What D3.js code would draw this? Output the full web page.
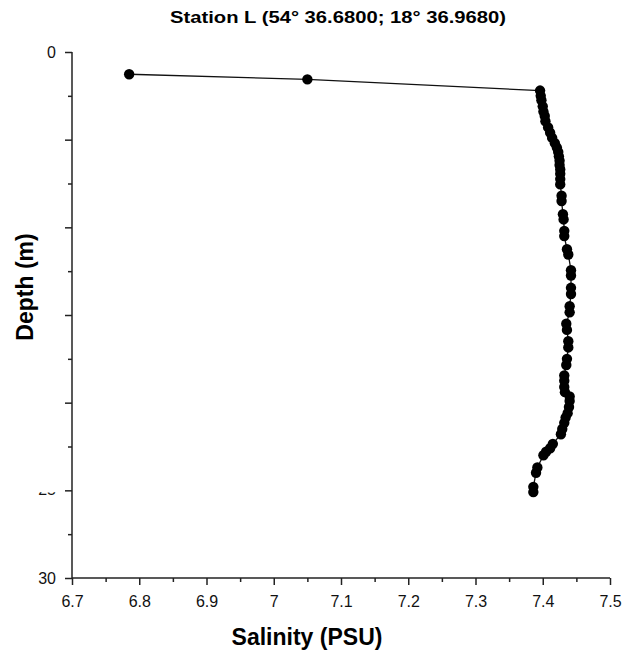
<!DOCTYPE html>
<html>
<head>
<meta charset="utf-8">
<script src="https://cdn.jsdelivr.net/npm/d3@7"></script>
<style>
  body { margin: 0; background: #fff; }
  svg { display: block; }
</style>
</head>
<body>
<div id="chart"></div>
<script>
// salinity profile, station L
const depth = [1.27, 1.56, 2.2, 2.5, 2.75, 3.1, 3.4, 3.65, 3.95, 4.3, 4.6, 4.9, 5.2, 5.45, 5.7, 5.95,
  6.2, 6.45, 6.7, 6.95, 7.25, 7.55, 8.2, 8.5, 9.25, 9.55, 10.2, 10.5, 11.25, 11.55, 12.45, 12.75,
  13.45, 13.8, 14.5, 14.85, 15.5, 15.85, 16.5, 16.85, 17.5, 17.85, 18.45, 18.75, 19.1, 19.4,
  19.65, 19.9, 20.25, 20.6, 20.85, 21.15, 21.5, 21.8, 22.35, 22.6, 22.8, 23.0, 23.7, 24.0, 24.8, 25.1];
const salinity = [6.785, 7.050, 7.396, 7.397, 7.398, 7.400, 7.401, 7.403, 7.404, 7.408, 7.411, 7.414,
  7.418, 7.421, 7.423, 7.424, 7.425, 7.425, 7.426, 7.426, 7.426, 7.426, 7.428, 7.428, 7.430, 7.431,
  7.432, 7.432, 7.436, 7.438, 7.442, 7.442, 7.442, 7.442, 7.440, 7.440, 7.435, 7.436, 7.438, 7.438,
  7.436, 7.435, 7.432, 7.432, 7.432, 7.433, 7.440, 7.440, 7.439, 7.437, 7.434, 7.432, 7.429, 7.427,
  7.415, 7.411, 7.405, 7.401, 7.392, 7.390, 7.386, 7.386];

const xTicks = [6.7, 6.8, 6.9, 7.0, 7.1, 7.2, 7.3, 7.4, 7.5];
const xMinor = [6.75, 6.85, 6.95, 7.05, 7.15, 7.25, 7.35, 7.45];
const yTicks = [0, 5, 10, 15, 20, 25, 30];
const yMinor = [2.5, 7.5, 12.5, 17.5, 22.5, 27.5];
const yLabeled = [0, 30];

const W = 638, H = 656;
const mLeft = 72, mRight = 610, mTop = 52, mBottom = 578;

const svg = d3.select("#chart")
    .append("svg")
    .attr("width", W)
    .attr("height", H)
    .style("font-family", "'Liberation Sans', Arial, sans-serif");

const x = d3.scaleLinear().domain([6.7, 7.5]).range([mLeft, mRight]);
const y = d3.scaleLinear().domain([0, 30]).range([mTop, mBottom]);

// x axis, major + minor
const xAxis = svg.append("g")
    .attr("transform", "translate(0," + mBottom + ")")
    .call(d3.axisBottom(x).tickValues(xTicks).tickSize(7).tickPadding(11)
        .tickFormat(d3.format("")));
svg.append("g")
    .attr("transform", "translate(0," + mBottom + ")")
    .call(d3.axisBottom(x).tickValues(xMinor).tickSize(4).tickFormat(""))
    .select(".domain").remove();

// y axis, major + minor
const yAxis = svg.append("g")
    .attr("transform", "translate(" + mLeft + ",0)")
    .call(d3.axisLeft(y).tickValues(yTicks).tickSize(7).tickPadding(9)
        .tickFormat(d => yLabeled.includes(d) ? d : ""));
svg.append("g")
    .attr("transform", "translate(" + mLeft + ",0)")
    .call(d3.axisLeft(y).tickValues(yMinor).tickSize(4).tickFormat(""))
    .select(".domain").remove();

svg.selectAll(".domain, .tick line")
    .attr("stroke", "#222")
    .attr("stroke-width", 1.5);
svg.selectAll(".tick text")
    .attr("fill", "#111")
    .style("font-size", "16px");
yAxis.select(".domain").attr("d", "M0," + mTop + "V" + mBottom);
xAxis.select(".domain").attr("d", "M" + mLeft + ",0H" + mRight);

// the "25" label is cut off in the original, only its base shows
svg.append("clipPath").attr("id", "cut25")
    .append("rect").attr("x", 0).attr("y", y(25) + 1.8).attr("width", mLeft).attr("height", 6);
svg.append("text")
    .attr("x", mLeft - 16)
    .attr("y", y(25))
    .attr("dy", "0.32em")
    .attr("text-anchor", "end")
    .attr("clip-path", "url(#cut25)")
    .style("font-size", "16px")
    .attr("fill", "#111")
    .text("25");

const pts = depth.map((d, i) => ({ d: d, s: salinity[i] }));

svg.append("path")
    .datum(pts)
    .attr("fill", "none")
    .attr("stroke", "#111")
    .attr("stroke-width", 1.3)
    .attr("d", d3.line().x(p => x(p.s)).y(p => y(p.d)));

svg.selectAll("circle.pt")
    .data(pts)
    .enter()
    .append("circle")
    .attr("class", "pt")
    .attr("cx", p => x(p.s))
    .attr("cy", p => y(p.d))
    .attr("r", 5.2)
    .attr("fill", "#000");

// titles
svg.append("text")
    .attr("x", 338).attr("y", 23)
    .attr("text-anchor", "middle")
    .attr("textLength", 336)
    .attr("lengthAdjust", "spacingAndGlyphs")
    .style("font-size", "17px").style("font-weight", "bold")
    .text("Station L (54° 36.6800; 18° 36.9680)");

svg.append("text")
    .attr("x", 307).attr("y", 645)
    .attr("text-anchor", "middle")
    .style("font-size", "23px").style("font-weight", "bold")
    .text("Salinity (PSU)");

svg.append("text")
    .attr("transform", "translate(33,287) rotate(-90)")
    .attr("text-anchor", "middle")
    .style("font-size", "23px").style("font-weight", "bold")
    .text("Depth (m)");
</script>
</body>
</html>
